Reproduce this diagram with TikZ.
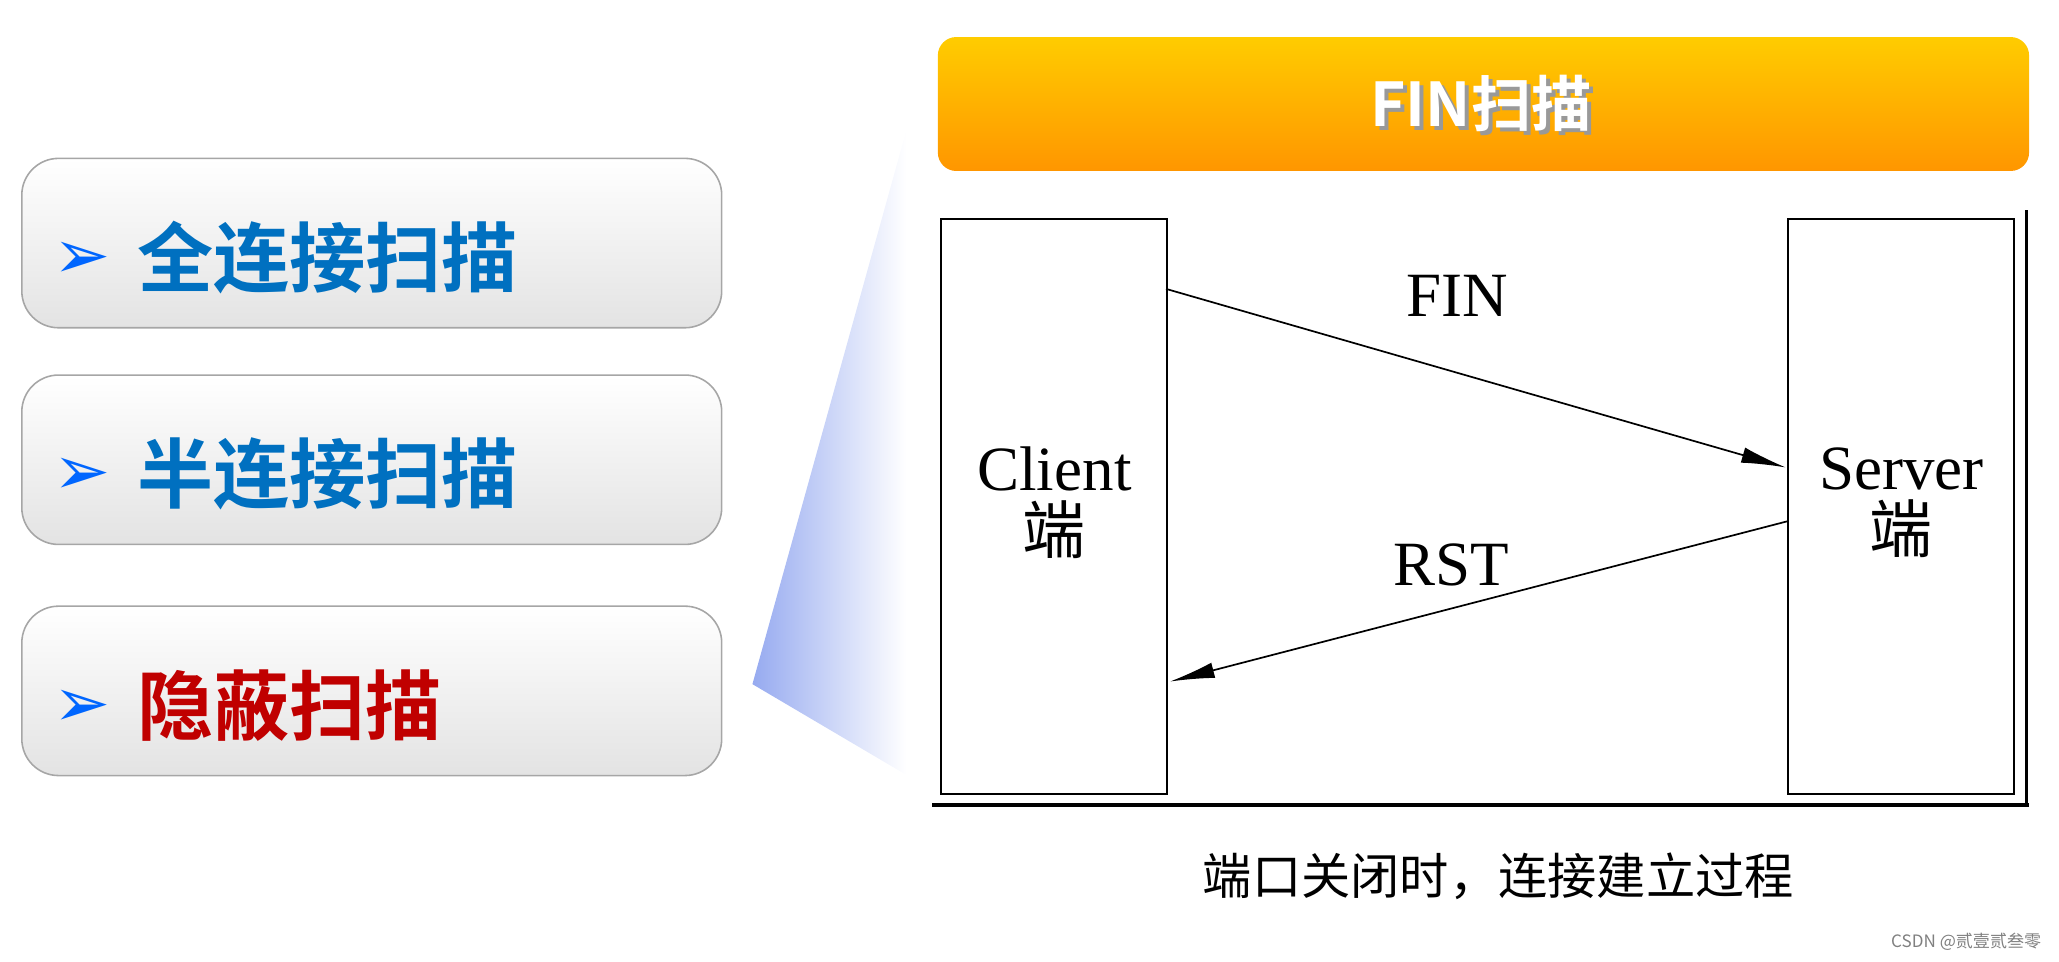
\documentclass[tikz,border=0pt]{standalone}
\usepackage{fontspec}
\setmainfont{Liberation Serif}
\newfontfamily\cjk{Noto Sans CJK SC}
\newfontfamily\cjkb{Noto Sans CJK SC Bold}
\newfontfamily\djsans{DejaVu Sans}
\usetikzlibrary{arrows.meta}
\definecolor{tblue}{RGB}{0,112,192}
\definecolor{tred}{RGB}{192,0,0}
\definecolor{hdA}{RGB}{255,204,0}
\definecolor{hdB}{RGB}{255,150,0}
\definecolor{trap}{RGB}{150,170,240}
\tikzset{
 menubox/.style={draw=gray!70,line width=1.2pt,rounded corners=28pt,top color=white,bottom color=gray!22},
 menutext/.style={anchor=west,font=\cjkb\fontsize{58}{64}\selectfont},
 bullet/.style={anchor=west,text=blue!60!cyan,font=\djsans\fontsize{52}{56}\selectfont},
 endbox/.style={draw,line width=1.3pt},
 msg/.style={line width=1.3pt,-{Latex[length=34pt,width=12pt]}},
 lbl/.style={font=\fontsize{48}{50}\selectfont}
}
\begin{document}
\begin{tikzpicture}[x=1pt,y=-1pt]
\useasboundingbox (0,0) rectangle (1568,732);
% left menu
\foreach \y/\t/\c/\n in {120/全连接扫描/tblue/a,285/半连接扫描/tblue/b,461/隐蔽扫描/tred/c}{
 \node[menubox,minimum width=533pt,minimum height=129pt,anchor=north west] (box\n) at (16,\y) {};
 \node[bullet] (bul\n) at (37,\y+78) {➢};
 \node[menutext,text=\c] (txt\n) at (101,\y+76) {\t};
}
% trapezoid
\shade[left color=trap,right color=white] (573,521) -- (690,100) -- (690,590) -- cycle;
% header
\node[rounded corners=14pt,top color=hdA,bottom color=hdB,minimum width=831pt,minimum height=102pt,anchor=north west] (hdr) at (714,28) {};
\node[text=black!40,font=\cjkb\fontsize{46}{48}\selectfont] at (1131,82) {FIN扫描};
\node[text=white,font=\cjkb\fontsize{46}{48}\selectfont] (hdrt) at (1128,79) {FIN扫描};
% diagram frame
\draw[line width=3pt] (710,613) -- (1545,613);
\draw[line width=2pt] (1543,160) -- (1543,613);
\node[endbox,minimum width=172pt,minimum height=438pt,anchor=north west] (client) at (716,166) {};
\node[endbox,minimum width=172pt,minimum height=438pt,anchor=north west] (server) at (1361,166) {};
\node[lbl,align=center] (ct) at (803,383) {Client\\[-2pt]{\cjk 端}};
\node[lbl,align=center] (st) at (1448,383) {Server\\[-2pt]{\cjk 端}};
\coordinate (f1) at (888,220); \coordinate (f2) at (1360,356);
\coordinate (r1) at (1361,397); \coordinate (r2) at (891,519);
\draw[msg] (f1) -- (f2);
\draw[msg] (r1) -- (r2);
\node[lbl] (fin) at (1110,225) {FIN};
\node[lbl] (rst) at (1105,430) {RST};
% caption
\node[font=\cjk\fontsize{37.5}{40}\selectfont] (cap) at (1141,667) {端口关闭时，连接建立过程};
\node[text=gray,font=\cjk\fontsize{13}{15}\selectfont,anchor=east] (wm) at (1558,717) {CSDN @贰壹贰叁零};
\end{tikzpicture}
\end{document}
